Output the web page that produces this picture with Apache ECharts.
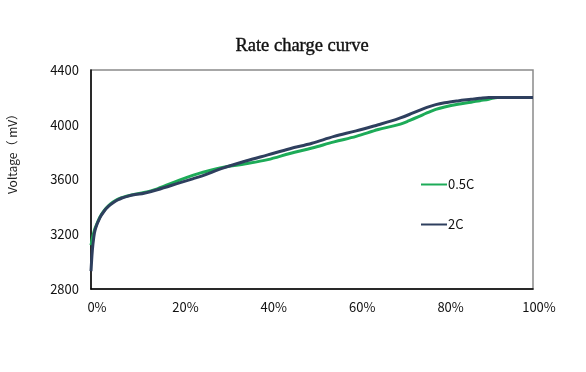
<!DOCTYPE html>
<html>
<head>
<meta charset="utf-8">
<script src="https://cdn.jsdelivr.net/npm/echarts@6/dist/echarts.min.js"></script>
<style>html,body{margin:0;padding:0;background:#fff;}#c{width:586px;height:372px;}</style>
</head>
<body>
<div id="c"></div>
<script>
// Charge state (%) and voltage (mV) readings
const soc05C = [0,0.3,0.6,1,2,3,4,5,6,7,8,10,12,15,20,23,25,30,35,40,45,50,55,60,65,68,70,72,74,76,78,80,83,86,88,90,92,100];
const volt05C = [3120,3170,3210,3250,3325,3375,3410,3435,3455,3468,3478,3493,3505,3532,3595,3630,3650,3690,3715,3745,3790,3830,3875,3915,3965,3988,4005,4030,4057,4086,4112,4130,4150,4165,4176,4186,4200,4200];
const soc2C = [0,0.3,0.6,1,2,3,4,5,6,7,8,10,12,15,20,23,25,30,35,40,45,50,55,60,65,68,70,72,74,76,78,80,83,86,88,90,100];
const volt2C = [2930,3080,3170,3240,3320,3370,3405,3430,3450,3465,3475,3490,3500,3525,3575,3605,3625,3685,3735,3780,3825,3865,3915,3955,4000,4028,4050,4075,4102,4127,4147,4160,4174,4186,4194,4200,4200];
const seriesNames = ['0.5C','2C'];
const xTicks = [0,20,40,60,80,100];
const yTicks = [2800,3200,3600,4000,4400];

const pair = (xs, ys) => xs.map((x, i) => [x, ys[i]]);
const chart = echarts.init(document.getElementById('c'));
chart.setOption({
  animation: false,
  backgroundColor: '#fff',
  title: {
    text: 'Rate charge curve',
    left: 297, top: 32, textAlign: 'center',
    textStyle: { fontFamily: 'Liberation Serif', fontSize: 18.5, fontWeight: 'normal', color: '#111',
      textBorderColor: '#111', textBorderWidth: 0.4 }
  },
  legend: {
    orient: 'vertical', left: 416, top: 173,
    itemWidth: 26, itemHeight: 2, itemGap: 27,
    icon: 'rect',
    textStyle: { fontSize: 13, color: '#111', fontFamily: 'Noto Sans CJK SC', padding: [0,0,0,-4] },
    data: seriesNames
  },
  grid: { left: 91, right: 53, top: 70, bottom: 83, show: true, borderColor: '#8a8a8a', borderWidth: 1.5 },
  xAxis: {
    type: 'value', min: 0, max: 100, interval: 20,
    axisLine: { show: true, lineStyle: { color: '#000', width: 1.5 } },
    axisTick: { show: false },
    splitLine: { show: false },
    axisLabel: { formatter: v => xTicks.includes(v) ? v + '%' : '', fontSize: 13, color: '#111', margin: 12, padding: [0,0,0,12], fontFamily: 'Noto Sans CJK SC' }
  },
  yAxis: {
    type: 'value', min: 2800, max: 4400, interval: 400,
    axisLine: { show: true, lineStyle: { color: '#000', width: 1.5 } },
    axisTick: { show: false },
    splitLine: { show: false },
    axisLabel: { formatter: v => yTicks.includes(v) ? String(v) : '', fontSize: 13, color: '#111', margin: 12, fontFamily: 'Noto Sans CJK SC' }
  },
  graphic: [{
    type: 'text', x: 12, y: 151, rotation: Math.PI / 2,
    style: { text: 'Voltage（ mV）', fill: '#222', font: '12px "Noto Sans CJK SC"', align: 'center', verticalAlign: 'middle' }
  }],
  series: [
    { name: seriesNames[0], type: 'line', data: pair(soc05C, volt05C), smooth: 0.35, symbol: 'none',
      lineStyle: { color: '#1dab58', width: 3 }, itemStyle: { color: '#1dab58' } },
    { name: seriesNames[1], type: 'line', data: pair(soc2C, volt2C), smooth: 0.35, symbol: 'none',
      lineStyle: { color: '#2e3f5e', width: 3 }, itemStyle: { color: '#2e3f5e' } }
  ]
});
</script>
</body>
</html>
